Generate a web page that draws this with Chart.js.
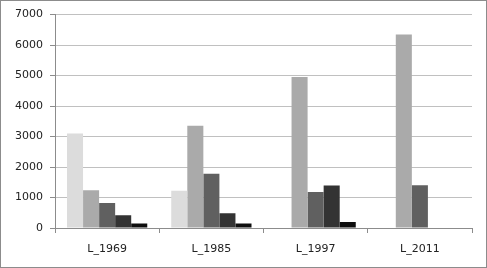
<!DOCTYPE html>
<html>
<head>
<meta charset="utf-8">
<script src="https://cdn.jsdelivr.net/npm/chart.js@4/dist/chart.umd.min.js"></script>
<style>
  html, body { margin: 0; padding: 0; background: #fff; }
  #wrap { position: relative; width: 485px; height: 266px; border: 1px solid #8c8c8c; }
</style>
</head>
<body>
<div id="wrap"><canvas id="myChart"></canvas></div>
<script>
const labels = ['L_1969', 'L_1985', 'L_1997', 'L_2011'];

const series1 = [3100, 1220, 0, 0];
const series2 = [1240, 3350, 4950, 6350];
const series3 = [820, 1780, 1180, 1400];
const series4 = [415, 480, 1390, 0];
const series5 = [150, 150, 195, 0];

const colors = ['#dcdcdc', '#aaaaaa', '#606060', '#333333', '#0e0e0e'];

const yTicks = [0, 1000, 2000, 3000, 4000, 5000, 6000, 7000];

const data = {
    labels: labels,
    datasets: [series1, series2, series3, series4, series5].map((vals, i) => ({
        label: 'S' + (i + 1),
        data: vals,
        backgroundColor: colors[i],
        borderWidth: 0,
        categoryPercentage: 0.77,
        barPercentage: 1.0
    }))
};

const config = {
    type: 'bar',
    data: data,
    options: {
        responsive: false,
        animation: false,
        events: [],
        layout: { padding: { top: 8, right: 14, left: 0, bottom: 0 } },
        plugins: {
            legend: { display: false },
            tooltip: { enabled: false }
        },
        scales: {
            x: {
                grid: {
                    offset: true,
                    drawOnChartArea: false,
                    drawTicks: true,
                    tickLength: 5,
                    color: '#8c8c8c'
                },
                border: { color: '#8c8c8c' },
                ticks: {
                    color: '#222',
                    font: { family: 'DejaVu Sans', size: 11 },
                    padding: 10
                },
                afterFit: (axis) => { axis.height = 39; }
            },
            y: {
                min: 0,
                max: 7000,
                afterBuildTicks: (axis) => {
                    axis.ticks = yTicks.map(v => ({ value: v }));
                },
                grid: {
                    color: '#c0c0c0',
                    tickColor: '#8c8c8c',
                    tickLength: 5
                },
                border: { color: '#8c8c8c' },
                ticks: {
                    color: '#222',
                    font: { family: 'DejaVu Sans', size: 11 },
                    padding: 7,
                    callback: (v) => String(v)
                },
                afterFit: (axis) => { axis.width = 54; }
            }
        }
    }
};

const canvas = document.getElementById('myChart');
canvas.width = 485;
canvas.height = 266;

const myChart = new Chart(canvas, config);
</script>
</body>
</html>
